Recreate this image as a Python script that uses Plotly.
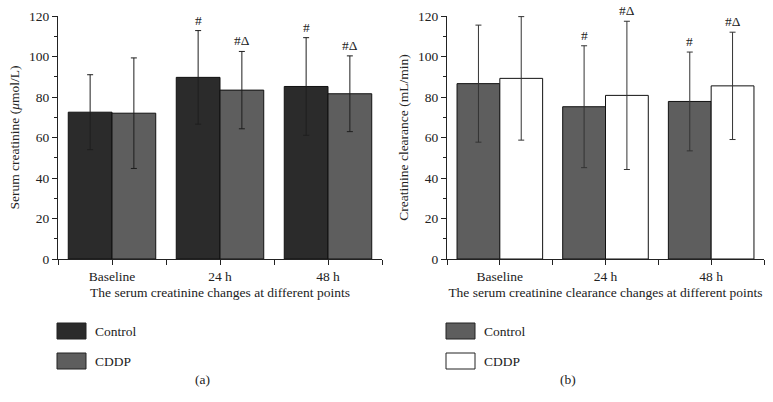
import plotly.graph_objects as go

# ---- data ----
categories = ["Baseline", "24 h", "48 h"]
series_names = ["Control", "CDDP"]

# (a) serum creatinine, umol/L
scr_control = [72.5, 89.7, 85.2]
scr_control_sd = [18.5, 23.1, 24.1]
scr_cddp = [72.0, 83.4, 81.6]
scr_cddp_sd = [27.3, 19.1, 18.7]
scr_marks_control = ["", "#", "#"]
scr_marks_cddp = ["", "#Δ", "#Δ"]

# (b) creatinine clearance, mL/min
ccr_control = [86.6, 75.2, 77.8]
ccr_control_sd = [28.9, 30.1, 24.4]
ccr_cddp = [89.2, 80.8, 85.5]
ccr_cddp_sd = [30.5, 36.6, 26.5]
ccr_marks_control = ["", "#", "#"]
ccr_marks_cddp = ["", "#Δ", "#Δ"]

FONT = "Liberation Serif"
BARGAP = 0.19
idx = list(range(len(categories)))

panels = [
    dict(x="x", y="y", values=[scr_control, scr_cddp], sds=[scr_control_sd, scr_cddp_sd],
         marks=[scr_marks_control, scr_marks_cddp], colors=["#2b2b2b", "#5e5e5e"],
         err_color="#1e1e1e"),
    dict(x="x2", y="y2", values=[ccr_control, ccr_cddp], sds=[ccr_control_sd, ccr_cddp_sd],
         marks=[ccr_marks_control, ccr_marks_cddp], colors=["#5e5e5e", "#ffffff"],
         err_color="#333333"),
]

fig = go.Figure()
annotations = []
shapes = []
half = (1 - BARGAP) / 2 / 2  # centre offset of each bar within a group

for p in panels:
    for k, name in enumerate(series_names):
        fig.add_trace(go.Bar(
            x=idx, y=p["values"][k], name=name, xaxis=p["x"], yaxis=p["y"],
            marker=dict(color=p["colors"][k], line=dict(color="#111111", width=1)),
            error_y=dict(type="data", array=p["sds"][k], color=p["err_color"],
                         thickness=1, width=3),
            showlegend=False,
        ))
        offset = -half if k == 0 else half
        for i, m in enumerate(p["marks"][k]):
            if m:
                annotations.append(dict(
                    x=i + offset, y=p["values"][k][i] + p["sds"][k][i],
                    xref=p["x"], yref=p["y"], text=m, showarrow=False,
                    yanchor="bottom", yshift=1, font=dict(family=FONT, size=13.5, color="#222")))

# legends, drawn as boxes + labels under each panel
W, H = 773, 402
legend_left = [57, 446]
legend_rows = [331, 361]
for p, lx in zip(panels, legend_left):
    for k, name in enumerate(series_names):
        cy = legend_rows[k]
        shapes.append(dict(type="rect", xref="paper", yref="paper",
                           x0=lx / W, x1=(lx + 29) / W,
                           y0=1 - (cy + 8) / H, y1=1 - (cy - 8) / H,
                           fillcolor=p["colors"][k], line=dict(color="#222", width=1)))
        annotations.append(dict(x=(lx + 36) / W, y=1 - cy / H, xref="paper", yref="paper",
                                text=name, showarrow=False, xanchor="left", yanchor="middle",
                                font=dict(family=FONT, size=13.5, color="#222")))

for lab, cx in [("(a)", 193), ("(b)", 578)]:
    annotations.append(dict(x=cx / W, y=1 - 389 / H, xref="paper", yref="paper", text=lab,
                            showarrow=False, font=dict(family=FONT, size=13.5, color="#222")))

ydom = [1 - 259 / H, 1 - 16 / H]
xaxis_common = dict(
    range=[-0.5, len(categories) - 0.5], tickvals=idx, ticktext=categories,
    ticks="outside", ticklen=5, tickcolor="#222", showline=True, linecolor="#222",
    linewidth=1, showgrid=False, zeroline=False, automargin=False,
    minor=dict(tick0=0.5, dtick=1, ticks="outside", ticklen=5, tickcolor="#222"),
    tickfont=dict(family=FONT, size=13.5, color="#222"),
    title=dict(font=dict(family=FONT, size=13.5, color="#222"), standoff=4),
)
yaxis_common = dict(
    range=[0, 120], dtick=20, ticks="outside", ticklen=5, tickcolor="#222",
    showline=True, linecolor="#222", linewidth=1, showgrid=False, zeroline=False,
    automargin=False,
    minor=dict(dtick=10, ticks="outside", ticklen=3, tickcolor="#222"),
    tickfont=dict(family=FONT, size=13.5, color="#222"),
    title=dict(font=dict(family=FONT, size=13.5, color="#222"), standoff=6),
)

fig.update_layout(
    width=W, height=H, margin=dict(l=0, r=0, t=0, b=0),
    paper_bgcolor="white", plot_bgcolor="white",
    barmode="group", bargap=BARGAP, bargroupgap=0,
    xaxis=dict(xaxis_common, domain=[58 / W, 382 / W], anchor="y",
               title_text="The serum creatinine changes at different points"),
    yaxis=dict(yaxis_common, domain=ydom, anchor="x",
               title_text="Serum creatinine (<i>μ</i>mol/L)"),
    xaxis2=dict(xaxis_common, domain=[447 / W, 764 / W], anchor="y2",
                title_text="The serum creatinine clearance changes at different points"),
    yaxis2=dict(yaxis_common, domain=ydom, anchor="x2",
                title_text="Creatinine clearance (mL/min)"),
    annotations=annotations, shapes=shapes,
)

# the page body has a default 8px margin; drop it so the figure sits at (0, 0)
fig.write_html("out.html", config={"displayModeBar": False},
               post_script="document.body.style.margin='0';")
